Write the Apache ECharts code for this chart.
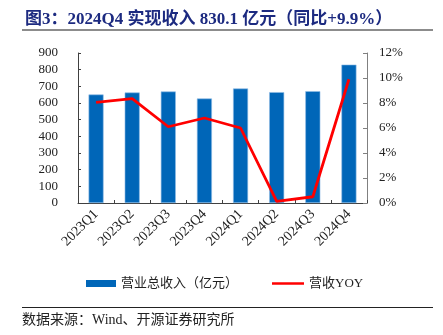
<!DOCTYPE html>
<html><head><meta charset="utf-8">
<script src="https://cdn.jsdelivr.net/npm/echarts@6/dist/echarts.min.js"></script>
<style>html,body{margin:0;padding:0;background:#fff}#c{width:443px;height:335px}</style>
</head><body><div id="c"></div>
<script>
const categories = ['2023Q1','2023Q2','2023Q3','2023Q4','2024Q1','2024Q2','2024Q3','2024Q4'];
const revenue = [651, 663, 669, 627, 687, 665, 671, 830.1];
const yoy = [8.05, 8.35, 6.1, 6.8, 6.0, 0.13, 0.5, 9.9];
const leftTicks = [0, 900, 100];
const rightTicks = [0, 12, 2];

const serif = '"Liberation Serif","Times New Roman","Noto Sans CJK SC",serif';
const chart = echarts.init(document.getElementById('c'));
chart.setOption({
  animation: false,
  title: {
    text: '图3：2024Q4 实现收入 830.1 亿元（同比+9.9%）',
    left: 20, top: 6,
    textStyle: {fontFamily: serif, fontSize: 17, fontWeight: 'bold', color: '#1C2A80'}
  },
  graphic: [
    {type: 'line', shape: {x1: 22, y1: 30, x2: 433, y2: 30}, style: {stroke: '#8c8c8c', lineWidth: 2}},
    {type: 'line', shape: {x1: 22, y1: 307.5, x2: 433, y2: 307.5}, style: {stroke: '#222', lineWidth: 1}},
    {type: 'text', left: 22, top: 313, style: {text: '数据来源：Wind、开源证券研究所', font: '14px ' + serif, fill: '#222'}}
  ],
  legend: [
    {left: 81, top: 272,
     textStyle: {fontFamily: serif, fontSize: 13, color: '#222'},
     data: [{name: '营业总收入（亿元）', icon: 'rect', itemStyle: {color: '#0066B8', borderWidth: 0}}],
     itemWidth: 30, itemHeight: 7},
    {left: 267, top: 272,
     textStyle: {fontFamily: serif, fontSize: 13, color: '#222'},
     data: [{name: '营收YOY', icon: 'rect', itemStyle: {color: '#FF0000'}}],
     itemWidth: 32, itemHeight: 2.5}
  ],
  grid: {left: 78, right: 76, top: 53, bottom: 132},
  xAxis: {
    type: 'category', data: categories,
    axisLine: {lineStyle: {color: '#404040', width: 1}},
    axisTick: {show: true, inside: true, length: 3, lineStyle: {color: '#404040'}},
    axisLabel: {rotate: 45, margin: 9, fontFamily: serif, fontSize: 14, color: '#222'}
  },
  yAxis: [
    {type: 'value', min: leftTicks[0], max: leftTicks[1], interval: leftTicks[2],
     splitLine: {show: false},
     axisLine: {show: true, lineStyle: {color: '#404040'}},
     axisTick: {show: true, inside: true, length: 3, lineStyle: {color: '#404040'}},
     axisLabel: {margin: 20, fontFamily: serif, fontSize: 13, color: '#222'}},
    {type: 'value', min: rightTicks[0], max: rightTicks[1], interval: rightTicks[2],
     splitLine: {show: false},
     axisLine: {show: true, lineStyle: {color: '#808080'}},
     axisTick: {show: true, inside: true, length: 4, lineStyle: {color: '#808080'}},
     axisLabel: {margin: 12, fontFamily: serif, fontSize: 13, color: '#222', formatter: '{value}%'}}
  ],
  series: [
    {name: '营业总收入（亿元）', type: 'bar', data: revenue, barWidth: 15,
     itemStyle: {color: '#0066B8', borderColor: '#8FBCE6', borderWidth: 0.6}},
    {name: '营收YOY', type: 'line', yAxisIndex: 1, data: yoy, symbol: 'none',
     lineStyle: {color: '#FF0000', width: 2.8}, itemStyle: {color: '#FF0000'}}
  ]
});
</script></body></html>
